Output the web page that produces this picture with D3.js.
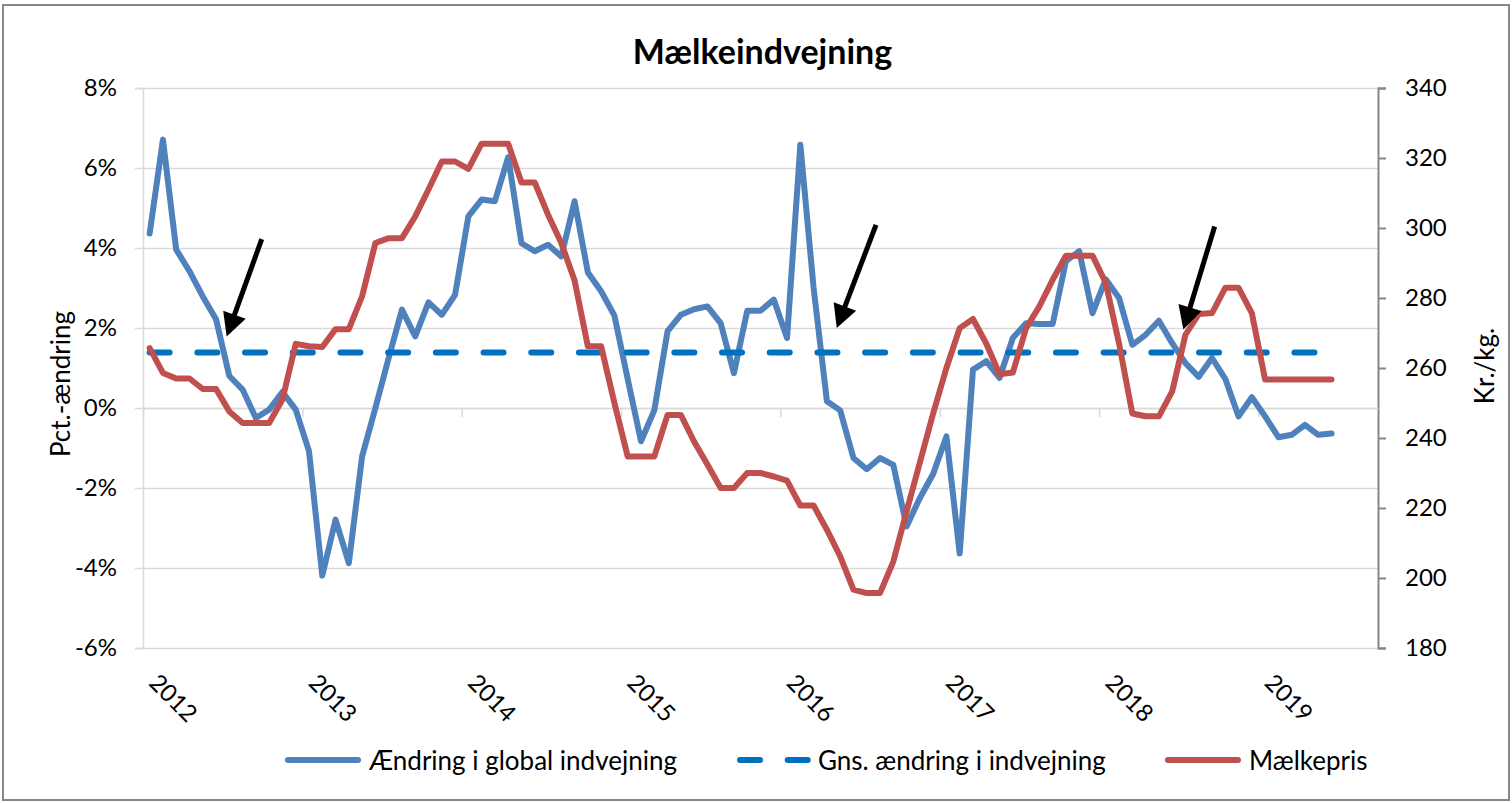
<!DOCTYPE html>
<html>
<head>
<meta charset="utf-8">
<script src="https://cdn.jsdelivr.net/npm/d3@7/dist/d3.min.js"></script>
<style>
  body { margin: 0; background: #fff; }
  svg { font-family: Lato, "Open Sans", sans-serif; }
</style>
</head>
<body>
<svg width="1512" height="803"></svg>
<script>
// ---- data ----
var years = ["2012", "2013", "2014", "2015", "2016", "2017", "2018", "2019"];
var nCategories = 93; // jan 2012 - sep 2019 (sidste måneder uden data)

// Ændring i global indvejning, pct. (jan 2012 - jun 2019)
var aendring = [
    4.36, 6.71, 3.96, 3.42, 2.79, 2.22, 0.80, 0.46, -0.25, -0.04, 0.40, -0.04,
    -1.08, -4.19, -2.79, -3.88, -1.21, 0.00, 1.25, 2.46, 1.79, 2.64, 2.33, 2.83,
    4.79, 5.21, 5.17, 6.27, 4.12, 3.92, 4.08, 3.79, 5.17, 3.39, 2.92, 2.31,
    0.72, -0.83, -0.06, 1.92, 2.33, 2.47, 2.54, 2.12, 0.87, 2.43, 2.43, 2.71,
    1.75, 6.58, 3.00, 0.17, -0.06, -1.25, -1.53, -1.25, -1.42, -2.96, -2.25, -1.65,
    -0.71, -3.64, 0.96, 1.17, 0.75, 1.75, 2.12, 2.10, 2.10, 3.67, 3.92, 2.37,
    3.22, 2.75, 1.58, 1.83, 2.18, 1.62, 1.12, 0.78, 1.25, 0.73, -0.21, 0.27,
    -0.21, -0.73, -0.67, -0.42, -0.67, -0.64
];

// Mælkepris, kr./kg.
var maelkepris = [
    265.7, 258.6, 257.0, 257.0, 254.0, 254.0, 247.6, 244.3, 244.3, 244.3, 251.0, 266.9,
    266.2, 266.0, 271.1, 271.1, 280.5, 295.7, 297.1, 297.1, 303.3, 311.0, 319.0, 319.0,
    316.9, 324.1, 324.1, 324.1, 313.0, 313.0, 303.8, 295.7, 285.0, 266.2, 266.2, 250.0,
    234.7, 234.7, 234.7, 246.6, 246.6, 239.0, 232.4, 225.7, 225.7, 230.0, 230.0, 229.0,
    227.8, 220.7, 220.7, 213.8, 206.2, 196.7, 195.7, 195.7, 204.7, 219.0, 233.0, 247.0,
    260.0, 271.4, 274.0, 267.0, 258.2, 258.7, 271.4, 277.6, 285.2, 292.1, 292.1, 292.1,
    284.3, 267.0, 247.0, 246.2, 246.2, 253.3, 269.5, 275.4, 275.7, 282.9, 282.9, 275.7,
    256.7, 256.7, 256.7, 256.7, 256.7, 256.7
];

// Gns. ændring i indvejning, pct.
var gnsAendring = 1.39;

var leftTicks = [-6, -4, -2, 0, 2, 4, 6, 8];
var rightTicks = [180, 200, 220, 240, 260, 280, 300, 320, 340];

// pile: [måned-indeks, pct.] fra -> til
var arrows = [
    { from: [8.44, 4.22], to: [5.8, 1.79] },
    { from: [54.7, 4.58], to: [51.74, 2.0] },
    { from: [80.2, 4.54], to: [77.84, 1.96] }
];

var legendItems = [
    { label: "Ændring i global indvejning", color: "#4f81bd", dash: null, x: 288 },
    { label: "Gns. ændring i indvejning", color: "#0070c0", dash: "20,27.7", x: 740 },
    { label: "Mælkepris", color: "#c0504d", dash: null, x: 1168 }
];

// ---- chart ----
var svg = d3.select("svg"),
    width = +svg.attr("width"),
    height = +svg.attr("height");

var margin = { top: 88, right: 134, bottom: 155, left: 143 };
var plotW = width - margin.left - margin.right;

var x = d3.scaleLinear()
    .domain([0, nCategories])
    .range([margin.left, width - margin.right]);

var yL = d3.scaleLinear()
    .domain([-6, 8])
    .range([height - margin.bottom, margin.top]);

var yR = d3.scaleLinear()
    .domain([180, 340])
    .range([height - margin.bottom, margin.top]);

// ramme
svg.append("rect")
    .attr("x", 3).attr("y", 5)
    .attr("width", width - 6).attr("height", height - 8)
    .attr("fill", "#fff")
    .attr("stroke", "#868686")
    .attr("stroke-width", 2);

// titel
svg.append("text")
    .attr("x", (margin.left + width - margin.right) / 2 + 2)
    .attr("y", 64)
    .attr("text-anchor", "middle")
    .attr("font-size", 34)
    .attr("font-weight", "bold")
    .text("Mælkeindvejning");

// gitterlinjer
svg.append("g")
    .attr("transform", "translate(" + margin.left + ",0)")
    .call(d3.axisLeft(yL).tickValues(leftTicks).tickSize(-plotW).tickFormat(""))
    .call(function (g) {
        g.select(".domain").remove();
        g.selectAll("line").attr("stroke", "#d9d9d9").attr("stroke-width", 1.5);
    });

// venstre akse
svg.append("g")
    .attr("transform", "translate(" + margin.left + ",0)")
    .call(d3.axisLeft(yL).tickValues(leftTicks).tickSize(8).tickPadding(18)
        .tickFormat(function (d) { return d + "%"; }))
    .call(function (g) {
        g.select(".domain").attr("stroke", "#d9d9d9").attr("stroke-width", 1.5);
        g.selectAll("line").attr("stroke", "#d9d9d9").attr("stroke-width", 1.5);
        g.selectAll("text").attr("font-size", 24).attr("fill", "#000")
            .attr("font-family", "Lato, sans-serif");
    });

// højre akse
svg.append("g")
    .attr("transform", "translate(" + (width - margin.right) + ",0)")
    .call(d3.axisRight(yR).tickValues(rightTicks).tickSize(8).tickPadding(19).tickSizeOuter(8))
    .call(function (g) {
        g.select(".domain").attr("stroke", "#868686").attr("stroke-width", 2);
        g.selectAll("line").attr("stroke", "#868686").attr("stroke-width", 2);
        g.selectAll("text").attr("font-size", 24).attr("fill", "#000")
            .attr("font-family", "Lato, sans-serif");
    });

// x-akse ved 0 %
var yearIdx = years.map(function (d, i) { return i * 12; });
svg.append("g")
    .attr("transform", "translate(0," + yL(0) + ")")
    .call(d3.axisBottom(x).tickValues(yearIdx).tickSize(9).tickSizeOuter(0).tickFormat(""))
    .call(function (g) {
        g.select(".domain").attr("stroke", "#d9d9d9").attr("stroke-width", 1.5);
        g.selectAll("line").attr("stroke", "#d9d9d9").attr("stroke-width", 1.5);
    });

// årstal, drejet
svg.append("g")
    .selectAll("text")
    .data(years)
    .enter()
    .append("text")
    .attr("transform", function (d, i) {
        return "translate(" + (x(yearIdx[i]) + 17) + "," + (height - margin.bottom + 24) + ") rotate(45)";
    })
    .attr("dy", "0.72em")
    .attr("font-size", 24)
    .text(function (d) { return d; });

// akse-titler
svg.append("text")
    .attr("transform", "translate(60," + 384 + ") rotate(-90)")
    .attr("text-anchor", "middle")
    .attr("dominant-baseline", "central")
    .attr("font-size", 26)
    .text("Pct.-ændring");

svg.append("text")
    .attr("transform", "translate(1484," + 366 + ") rotate(-90)")
    .attr("text-anchor", "middle")
    .attr("dominant-baseline", "central")
    .attr("font-size", 26)
    .text("Kr./kg.");

// linjer
var lineL = d3.line()
    .x(function (d, i) { return x(i + 0.5); })
    .y(function (d) { return yL(d); });

var lineR = d3.line()
    .x(function (d, i) { return x(i + 0.5); })
    .y(function (d) { return yR(d); });

var series = svg.append("g")
    .attr("fill", "none")
    .attr("stroke-width", 6)
    .attr("stroke-linejoin", "round")
    .attr("stroke-linecap", "round");

series.append("path")
    .attr("d", lineL(aendring))
    .attr("stroke", "#4f81bd");

series.append("path")
    .attr("d", lineL(aendring.map(function () { return gnsAendring; })))
    .attr("stroke", "#0070c0")
    .attr("stroke-dasharray", "20,27.7");

series.append("path")
    .attr("d", lineR(maelkepris))
    .attr("stroke", "#c0504d");

// pile
arrows.forEach(function (a) {
    var x0 = x(a.from[0] + 0.5), y0 = yL(a.from[1]);
    var x1 = x(a.to[0] + 0.5), y1 = yL(a.to[1]);
    var dx = x1 - x0, dy = y1 - y0, len = Math.sqrt(dx * dx + dy * dy);
    var ux = dx / len, uy = dy / len;
    var headL = 23, headW = 12;
    var bx = x1 - ux * headL, by = y1 - uy * headL;
    svg.append("line")
        .attr("x1", x0).attr("y1", y0)
        .attr("x2", bx + ux * 2).attr("y2", by + uy * 2)
        .attr("stroke", "#000")
        .attr("stroke-width", 5);
    svg.append("path")
        .attr("d", "M" + x1 + "," + y1 +
            " L" + (bx - uy * headW) + "," + (by + ux * headW) +
            " L" + (bx + uy * headW) + "," + (by - ux * headW) + " Z")
        .attr("fill", "#000");
});

// forklaring
var legend = svg.append("g")
    .selectAll("g")
    .data(legendItems)
    .enter()
    .append("g")
    .attr("transform", function (d) { return "translate(" + d.x + ",760)"; });

legend.append("line")
    .attr("x1", 0).attr("x2", 70)
    .attr("stroke", function (d) { return d.color; })
    .attr("stroke-width", 6)
    .attr("stroke-linecap", "round")
    .attr("stroke-dasharray", function (d) { return d.dash; });

legend.append("text")
    .attr("x", function (d) { return d.dash ? 78 : 81; })
    .attr("dominant-baseline", "central")
    .attr("font-size", 26)
    .text(function (d) { return d.label; });
</script>
</body>
</html>
